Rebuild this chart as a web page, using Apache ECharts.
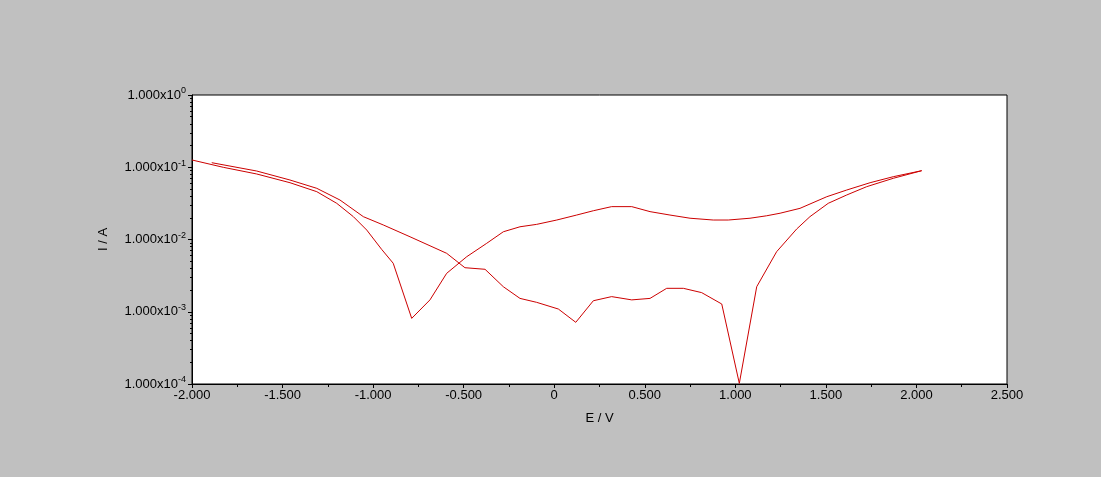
<!DOCTYPE html>
<html><head><meta charset="utf-8">
<script src="https://cdn.jsdelivr.net/npm/echarts@6/dist/echarts.min.js"></script>
<style>html,body{margin:0;padding:0;background:#c0c0c0;}#c{width:1101px;height:477px;}</style>
</head><body><div id="c"></div>
<script>
// Branch A (starts at left edge, first minimum near -0.78 V)
const branchA_E = [-2.000,-1.827,-1.643,-1.459,-1.311,-1.201,-1.109,-1.035,-0.953,-0.889,-0.787,-0.686,-0.594,-0.483,-0.373,-0.281,-0.189,-0.097,0.014,0.124,0.216,0.317,0.428,0.529,0.639,0.750,0.878,0.961,1.081,1.173,1.247,1.357,1.505,1.615,1.744,1.872,2.029];
const branchA_I = [0.126,0.0998,0.0807,0.0611,0.0459,0.0317,0.0207,0.0135,0.00731,0.00469,0.00081,0.00146,0.0034,0.00578,0.00885,0.0128,0.0150,0.0162,0.0186,0.0218,0.0250,0.0285,0.0285,0.0243,0.0218,0.0197,0.0186,0.0186,0.0197,0.0213,0.0231,0.0270,0.0391,0.0484,0.0611,0.0740,0.0896];
// Branch B (starts near -1.89 V, minimum near 1.02 V)
const branchB_E = [-1.891,-1.643,-1.459,-1.311,-1.183,-1.054,-0.944,-0.796,-0.594,-0.493,-0.382,-0.281,-0.189,-0.097,0.023,0.119,0.216,0.317,0.428,0.529,0.621,0.713,0.814,0.925,1.022,1.118,1.228,1.339,1.412,1.513,1.615,1.725,1.872,2.029];
const branchB_I = [0.1156,0.0887,0.0666,0.0511,0.0352,0.0207,0.0159,0.0109,0.00644,0.00407,0.00387,0.00222,0.00153,0.00135,0.00109,0.000714,0.00142,0.00162,0.00146,0.00153,0.00211,0.00211,0.00184,0.00128,0.000102,0.00222,0.00678,0.0140,0.0207,0.0317,0.0413,0.0538,0.0703,0.0896];
const xTicks = [-2.0,-1.5,-1.0,-0.5,0,0.5,1.0,1.5,2.0,2.5];
const yExponents = [0,-1,-2,-3,-4];
const yMinorMantissas = [2,3,4,5,6,7,8,9];

const yMinorValues = [];
yExponents.slice(1).forEach(e=>yMinorMantissas.forEach(m=>yMinorValues.push(m*Math.pow(10,e))));
const zip = (a,b)=>a.map((v,i)=>[v,b[i]]);
const chart = echarts.init(document.getElementById('c'));
const font = 'Liberation Sans, Arial, sans-serif';
const ink = '#000';
const yMin = Math.pow(10,yExponents[yExponents.length-1]), yMax = Math.pow(10,yExponents[0]);
chart.setOption({
  backgroundColor:'#c0c0c0',
  animation:false,
  grid:{left:192,top:95,right:94,bottom:93,show:true,backgroundColor:'#fff',borderColor:ink,borderWidth:1},
  xAxis:{type:'value',min:xTicks[0],max:xTicks[xTicks.length-1],interval:0.5,
    name:'E / V',nameLocation:'middle',nameGap:28,
    nameTextStyle:{color:ink,fontSize:13,fontFamily:font},
    axisLine:{onZero:false,lineStyle:{color:ink,width:1}},
    axisTick:{show:true,inside:false,length:4,lineStyle:{color:ink}},
    minorTick:{show:true,splitNumber:2,length:3,lineStyle:{color:ink}},
    splitLine:{show:false},
    axisLabel:{color:ink,fontSize:13,fontFamily:font,margin:5,
      formatter:v=>Math.abs(v)<1e-9?'0':v.toFixed(3)}},
  yAxis:[{type:'log',logBase:10,min:yMin,max:yMax,
    name:'I / A',nameLocation:'middle',nameGap:82,nameRotate:90,
    nameTextStyle:{color:ink,fontSize:13,fontFamily:font},
    axisLine:{show:true,onZero:false,lineStyle:{color:ink,width:1}},
    axisTick:{show:true,inside:false,length:4,lineStyle:{color:ink}},
    minorTick:{show:false},
    splitLine:{show:false},
    axisLabel:{color:ink,fontSize:13,fontFamily:font,margin:6,
      formatter:v=>{const e=Math.round(Math.log10(v));return '1.000x10{s|'+e+'}';},
      rich:{s:{fontSize:9,fontFamily:font,color:ink,padding:[0,0,8,0]}}}},
   {type:'log',logBase:10,min:yMin,max:yMax,position:'left',offset:0,
    axisLine:{show:false,onZero:false},
    axisTick:{show:true,inside:false,length:2,customValues:yMinorValues,lineStyle:{color:ink}},
    axisLabel:{show:false},splitLine:{show:false}}],
  series:[
    {type:'line',data:zip(branchA_E,branchA_I),showSymbol:false,lineStyle:{color:'#cc0000',width:1},smooth:false},
    {type:'line',data:zip(branchB_E,branchB_I),showSymbol:false,lineStyle:{color:'#cc0000',width:1},smooth:false}
  ]
});
</script></body></html>
